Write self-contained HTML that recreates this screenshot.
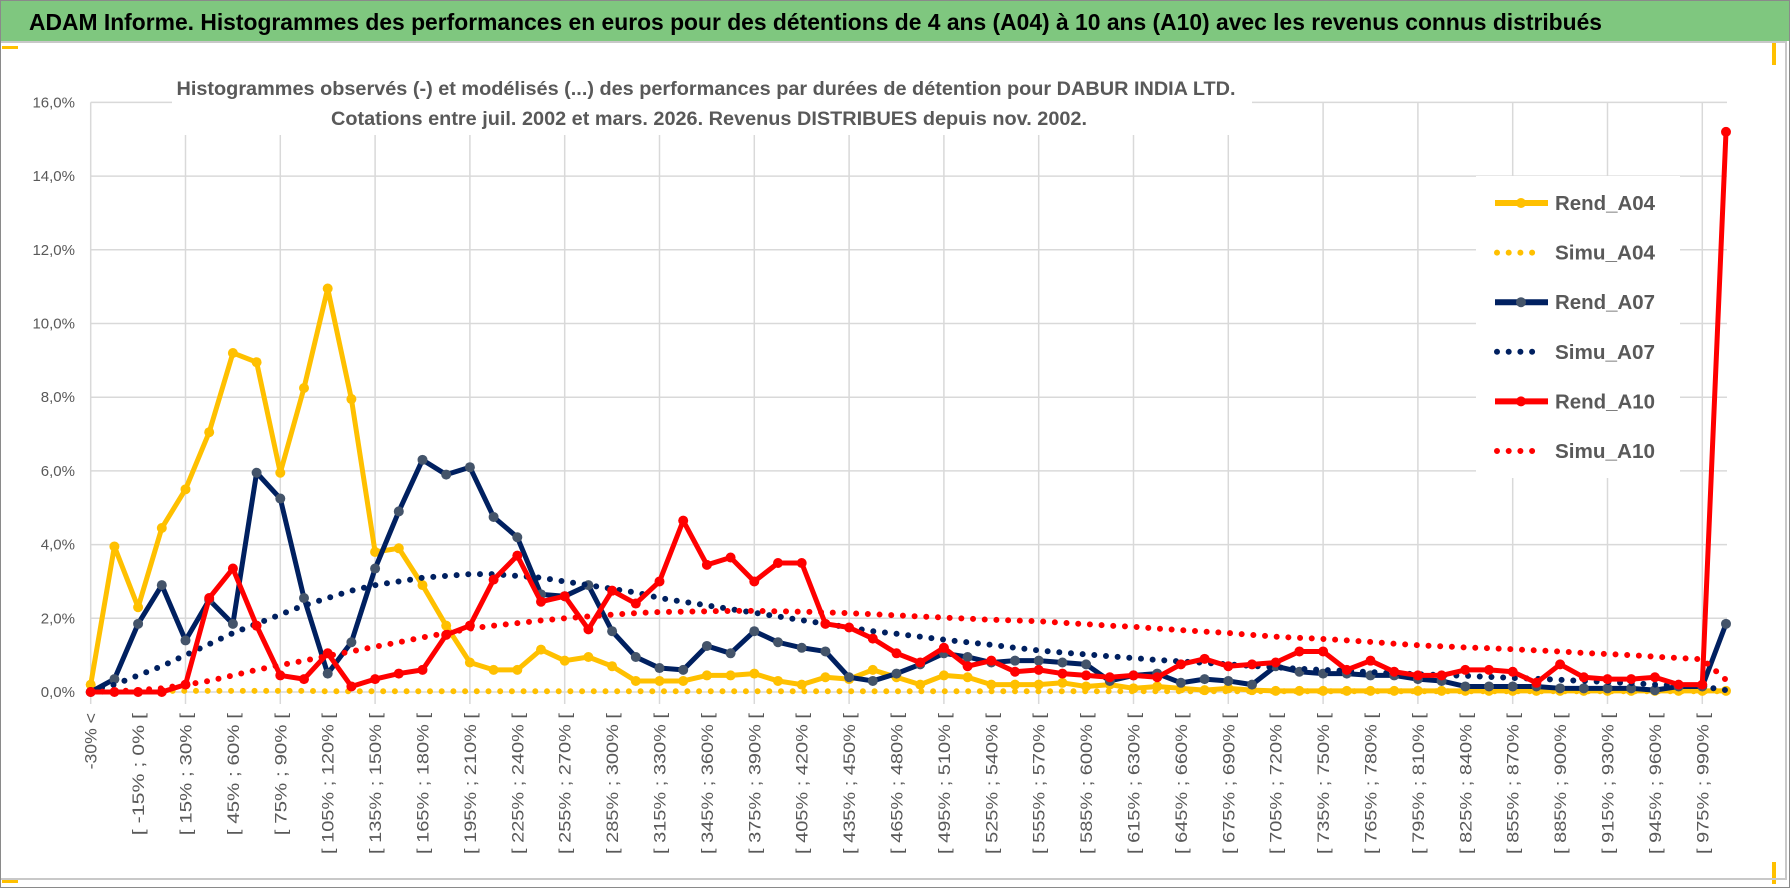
<!DOCTYPE html>
<html><head><meta charset="utf-8"><style>
html,body{margin:0;padding:0;background:#fff;}
svg{display:block;font-family:"Liberation Sans",sans-serif;}
</style></head><body>
<svg id="chart" width="1790" height="888" viewBox="0 0 1790 888" xmlns="http://www.w3.org/2000/svg">
<rect x="0" y="0" width="1790" height="888" fill="#fff"/>
<rect x="0.5" y="0.5" width="1789" height="887" fill="none" stroke="#8a8a8a"/>
<rect x="1" y="1" width="1788" height="40" fill="#7fc77f"/>
<text x="29" y="30" font-size="23" font-weight="bold" fill="#000" textLength="1573" lengthAdjust="spacingAndGlyphs">ADAM Informe. Histogrammes des performances en euros pour des détentions de 4 ans (A04) à 10 ans (A10) avec les revenus connus distribués</text>
<line x1="1" y1="42" x2="1787" y2="42" stroke="#c8c8c8" stroke-width="2"/>
<rect x="2" y="46" width="16" height="3" fill="#ffc000"/>
<rect x="2" y="878" width="16" height="5" fill="#ffc000"/>
<rect x="1772" y="43" width="4" height="22" fill="#ffc000"/>
<rect x="1772" y="862" width="4" height="22" fill="#ffc000"/>
<line x1="1786" y1="42" x2="1786" y2="880" stroke="#c8c8c8" stroke-width="2"/>
<line x1="1" y1="879" x2="1786" y2="879" stroke="#c8c8c8" stroke-width="2"/>
<g id="grid"></g>
<g id="yticks"></g>
<g id="xticks"></g>
<rect x="172" y="66" width="1080" height="69" fill="#fff"/>
<text x="706" y="95" font-size="19" font-weight="bold" fill="#595959" text-anchor="middle" textLength="1059" lengthAdjust="spacingAndGlyphs">Histogrammes observés (-) et modélisés (...) des performances par durées de détention pour DABUR INDIA LTD.</text>
<text x="709" y="125" font-size="19" font-weight="bold" fill="#595959" text-anchor="middle" textLength="756" lengthAdjust="spacingAndGlyphs">Cotations entre juil. 2002 et mars. 2026.  Revenus DISTRIBUES depuis nov. 2002.</text>
<g id="series"></g>
<rect x="1476" y="176" width="204" height="302" fill="#fff"/>
<g id="legend"></g>
</svg>
<script>
const categories = Array.from({length:70},(_,i)=> i===0 ? "-30% <" : (i===69 ? "> 990%" : "[ "+(-30+15*(i-1))+"% ; "+(-15+15*(i-1))+"% ["));
const yTicks = [0,2,4,6,8,10,12,14,16];
const yTickLabels = ["0,0%","2,0%","4,0%","6,0%","8,0%","10,0%","12,0%","14,0%","16,0%"];
const rendA04 = [0.2,3.95,2.3,4.45,5.5,7.05,9.2,8.95,5.95,8.25,10.95,7.95,3.8,3.9,2.9,1.8,0.8,0.6,0.6,1.15,0.85,0.95,0.7,0.3,0.3,0.3,0.45,0.45,0.5,0.3,0.2,0.4,0.35,0.6,0.4,0.2,0.45,0.4,0.2,0.2,0.2,0.25,0.15,0.2,0.1,0.15,0.1,0.05,0.1,0.05,0.03,0.03,0.03,0.03,0.03,0.03,0.03,0.03,0.03,0.03,0.03,0.03,0.03,0.03,0.03,0.03,0.03,0.03,0.03,0.03];
const simuA04 = [0.02,0.03,0.03,0.03,0.03,0.03,0.03,0.03,0.03,0.03,0.02,0.02,0.02,0.02,0.02,0.02,0.02,0.02,0.02,0.02,0.02,0.02,0.02,0.02,0.02,0.02,0.02,0.02,0.02,0.02,0.02,0.02,0.02,0.02,0.02,0.02,0.02,0.02,0.02,0.02,0.02,0.02,0.02,0.02,0.02,0.02,0.02,0.02,0.02,0.02,0.02,0.02,0.02,0.02,0.02,0.02,0.02,0.02,0.02,0.02,0.02,0.02,0.02,0.02,0.02,0.02,0.02,0.02,0.02,0.02];
const rendA07 = [0,0.35,1.85,2.9,1.4,2.5,1.85,5.95,5.25,2.55,0.5,1.35,3.35,4.9,6.3,5.9,6.1,4.75,4.2,2.65,2.6,2.9,1.65,0.95,0.65,0.6,1.25,1.05,1.65,1.35,1.2,1.1,0.4,0.3,0.5,0.75,1.05,0.95,0.8,0.85,0.85,0.8,0.75,0.3,0.45,0.5,0.25,0.35,0.3,0.2,0.7,0.55,0.5,0.5,0.45,0.45,0.35,0.3,0.15,0.15,0.15,0.15,0.1,0.1,0.1,0.1,0.05,0.15,0.15,1.85];
const simuA07 = [0.05,0.2,0.45,0.7,1.0,1.3,1.6,1.85,2.1,2.35,2.55,2.75,2.9,3.0,3.1,3.15,3.2,3.2,3.15,3.1,3.0,2.9,2.8,2.7,2.55,2.45,2.35,2.25,2.15,2.05,1.95,1.85,1.75,1.65,1.58,1.5,1.42,1.35,1.28,1.2,1.13,1.07,1.02,0.97,0.92,0.87,0.83,0.79,0.75,0.71,0.67,0.63,0.6,0.57,0.54,0.51,0.48,0.46,0.44,0.41,0.38,0.36,0.33,0.3,0.27,0.24,0.2,0.17,0.15,0.05];
const rendA10 = [0,0,0,0,0.2,2.55,3.35,1.8,0.45,0.35,1.05,0.15,0.35,0.5,0.6,1.55,1.8,3.05,3.7,2.45,2.6,1.7,2.75,2.4,3.0,4.65,3.45,3.65,3.0,3.5,3.5,1.85,1.75,1.45,1.05,0.8,1.2,0.7,0.85,0.55,0.6,0.5,0.45,0.4,0.45,0.4,0.75,0.9,0.7,0.75,0.8,1.1,1.1,0.6,0.85,0.55,0.45,0.45,0.6,0.6,0.55,0.25,0.75,0.4,0.35,0.35,0.4,0.2,0.2,15.2];
const simuA10 = [0,0.02,0.05,0.1,0.2,0.3,0.45,0.6,0.73,0.85,0.98,1.1,1.23,1.35,1.48,1.6,1.72,1.8,1.87,1.94,2.0,2.05,2.1,2.14,2.17,2.18,2.19,2.2,2.2,2.19,2.18,2.16,2.14,2.11,2.08,2.05,2.02,1.99,1.96,1.94,1.92,1.88,1.84,1.8,1.77,1.72,1.68,1.64,1.6,1.55,1.5,1.47,1.44,1.4,1.36,1.31,1.27,1.24,1.21,1.19,1.16,1.13,1.1,1.06,1.03,1.0,0.96,0.92,0.89,0.33];
const seriesNames = ["Rend_A04","Simu_A04","Rend_A07","Simu_A07","Rend_A10","Simu_A10"];

const NS="http://www.w3.org/2000/svg";
const X0=90.7, DX=23.7, Y0=692, YPER=36.85;
function xs(i){return X0+DX*i;}
function ys(v){return Y0-v*YPER;}
function mk(tag,attrs,parent){const e=document.createElementNS(NS,tag);for(const k in attrs)e.setAttribute(k,attrs[k]);parent.appendChild(e);return e;}

const grid=document.getElementById('grid');
yTicks.forEach((t,k)=>{
  const l=mk('line',{x1:X0,x2:xs(69)+1,y1:ys(t),y2:ys(t),stroke:'#d9d9d9','stroke-width':1.5},grid);
  
  
  const tx=mk('text',{x:75,y:ys(t)+5,'font-size':15,fill:'#595959','text-anchor':'end'},document.getElementById('yticks'));
  tx.textContent=yTickLabels[k];
  
  
});
for(let i=0;i<69;i+=4){
  const l=mk('line',{x1:xs(i),x2:xs(i),y1:ys(16),y2:ys(0)+12,stroke:'#d9d9d9','stroke-width':1.5},grid);
  
  
}
const xt=document.getElementById('xticks');
categories.forEach((c,i)=>{
  if(i%2) return;
  const x=xs(i)+6;
  const t=mk('text',{x:x,y:713,'font-size':17,fill:'#595959','text-anchor':'end',transform:`rotate(-90 ${x} 713)`,textLength:(c.length*9.4).toFixed(1),lengthAdjust:'spacingAndGlyphs'},xt);
  t.textContent=c;
  
  
});

const sg=document.getElementById('series');
function solid(data,color,mcolor,name){
  const g=mk('g',{},sg);
  
  
  mk('polyline',{points:data.map((v,i)=>xs(i)+','+ys(v)).join(' '),fill:'none',stroke:color,'stroke-width':5,'stroke-linejoin':'round'},g);
  data.forEach((v,i)=>{
    const c=mk('circle',{cx:xs(i),cy:ys(v),r:5,fill:mcolor},g);
    
    
  });
}
function dotted(data,color,name){
  const p=mk('polyline',{points:data.map((v,i)=>xs(i)+','+ys(v)).join(' '),fill:'none',stroke:color,'stroke-width':6,'stroke-linecap':'round','stroke-dasharray':'0 11.7'},sg);
  
  
}
solid(rendA04,'#ffc000','#ffc000','series-rend-a04');
dotted(simuA04,'#ffc000','series-simu-a04');
solid(rendA07,'#002060','#44546a','series-rend-a07');
dotted(simuA07,'#002060','series-simu-a07');
solid(rendA10,'#ff0000','#ff0000','series-rend-a10');
dotted(simuA10,'#ff0000','series-simu-a10');

const lg=document.getElementById('legend');
const lcolors=['#ffc000','#ffc000','#002060','#002060','#ff0000','#ff0000'];
const lmark=['#ffc000',null,'#44546a',null,'#ff0000',null];
seriesNames.forEach((n,k)=>{
  const y=203+k*49.6;
  const g=mk('g',{},lg);
  
  
  if(k%2===0){
    mk('line',{x1:1495,x2:1548,y1:y,y2:y,stroke:lcolors[k],'stroke-width':6},g);
    mk('circle',{cx:1521,cy:y,r:5,fill:lmark[k]},g);
  } else {
    mk('line',{x1:1497,x2:1542,y1:y,y2:y,stroke:lcolors[k],'stroke-width':6,'stroke-linecap':'round','stroke-dasharray':'0 11.7'},g);
  }
  const t=mk('text',{x:1555,y:y+7,'font-size':20,'font-weight':'bold',fill:'#595959',textLength:100,lengthAdjust:'spacingAndGlyphs'},g);
  t.textContent=n;
});
</script>
</body></html>
